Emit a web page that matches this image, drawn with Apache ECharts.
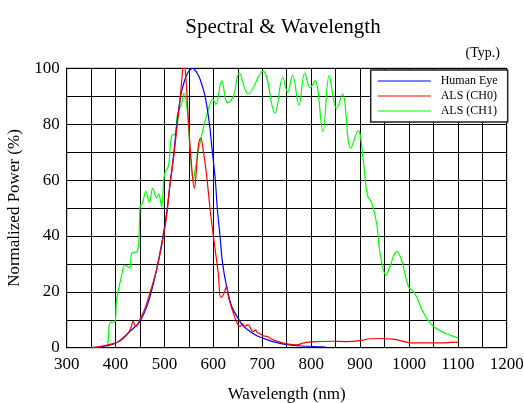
<!DOCTYPE html>
<html>
<head>
<meta charset="utf-8">
<script src="https://cdn.jsdelivr.net/npm/echarts@6/dist/echarts.min.js"></script>
<style>
html,body{margin:0;padding:0;background:#fff;}
#chart{width:524px;height:403px;}
</style>
</head>
<body>
<div id="chart"></div>
<script>
// Human Eye (blue)
var eyeNm  = [350,370,390,402,415,429,440,450,460,470,484,498,505,511,518,525,533,540,548,558,566,573,583,592,598,604,608,613.6,619,627,637,649,660,675,690,709,730,750,780,830];
var eyeVal = [0,0.3,1,1.8,3.5,5.8,7.5,9.5,13,18,28,41,49,58,68,79.5,90,95,98.5,100,98.5,96,90,80,70,60,50,40,30,22,15,11,8,5.8,4.2,2.9,1.8,1.1,0.6,0.2];

// ALS (CH0) (red)
var ch0Nm  = [350,370,390,410,425,432,436,441,446,452,460,470,484,498,505,511,518,525,532,536,538,541,544,548,552,557,561,565,569,574,579,586,593,600,606,610,615,619,623,627,631,636,641,648,654,660,664,669,673,677,682,686,690,695,702,710,720,730,750,770,785,800,845,870,900,920,941,968,990,1009,1050,1100];
var ch0Val = [0,0.5,1.3,2.5,5,7.5,9.4,7.6,8.5,11,14,19.5,28,40,48,58,67,78,89,97,100,100,96,84,73,62,57,63,72,75,71,62,50,40,32,26.7,18,18.5,20,22,18,15,12.4,9,7.6,8.5,7.4,8.2,8,6.5,5.8,6.4,5.5,5,4.3,4,3,2.3,1.4,1,1.7,2.1,2.3,2.2,2.5,3.2,3.3,3.1,2.2,1.7,1.7,2];

// ALS (CH1) (green)
var ch1Nm  = [383,385,388,399,402,412,419,429,433,444,448,450,455,462,469,476,484,488,494,500,508,515,522,526,536,540,546,552,559,563,573,586,599,605,617,629,641,653,671,701,726,742,752,762,775,787,798,808,824,837,852,864,881,896,907,915,924,934,941,953,961,975,985,999,1012,1030,1050,1077,1100];
var ch1Val = [0,3,8.8,9.4,17,25.5,29.6,28.5,33.8,34.4,40,50.5,51.7,56,52,57,53.6,55,50.5,62,65,76,76.4,83,88,91,86,72,60,64,73.6,83,89,87,95.6,87.6,90,98.3,90.8,99,84,96.8,91.4,97.6,86.7,98.3,93,95.6,77.4,97.4,85.5,90.8,71.4,77.7,66.4,54.6,51.7,44.5,33.8,26,29,34.4,31.4,21.9,19.5,12.4,7.6,5,3.5];

// Axis ticks
var xTicks = [300,400,500,600,700,800,900,1000,1100,1200];
var yTicks = [0,20,40,60,80,100];

var seriesNames = ['Human Eye','ALS (CH0)','ALS (CH1)'];
var seriesColors = ['#0000ff','#ff0000','#00ff00'];

function zip(a,b){var r=[];for(var i=0;i<a.length;i++)r.push([a[i],b[i]]);return r;}

var LINE_ICON = 'path://M0,0 M0,5.4 L53,5.4 L53,6.6 L0,6.6 Z M53,12';
var FONT = '"Liberation Serif","Times New Roman",serif';
var chart = echarts.init(document.getElementById('chart'), null, {renderer:'canvas'});
chart.setOption({
  animation:false,
  backgroundColor:'#fff',
  textStyle:{fontFamily:FONT,color:'#000'},
  title:[
    {text:'Spectral & Wavelength',left:278,top:12,textAlign:'center',
     textStyle:{fontFamily:FONT,fontSize:21,fontWeight:'normal',color:'#000'}},
    {text:'(Typ.)',right:19,top:41,
     textStyle:{fontFamily:FONT,fontSize:14,fontWeight:'normal',color:'#000'}}
  ],
  grid:{left:66.7,right:17.3,top:68.3,bottom:55.3,show:true,borderColor:'#000',borderWidth:1,
        backgroundColor:'transparent',containLabel:false,outerBoundsMode:'none'},
  legend:{
    orient:'vertical',left:370.7,top:70,
    padding:[5,10,5,7],itemGap:3,itemWidth:53,itemHeight:12,
    backgroundColor:'#fff',borderColor:'#222',borderWidth:1.5,borderRadius:0,
    textStyle:{fontFamily:FONT,fontSize:12,color:'#000',padding:[0,0,0,5]},
    data:seriesNames.map(function(n,i){return {name:n,icon:LINE_ICON,itemStyle:{color:seriesColors[i]}};})
  },
  xAxis:{
    type:'value',min:300,max:1200,interval:50,
    name:'Wavelength (nm)',nameLocation:'middle',nameGap:38,
    nameTextStyle:{fontFamily:FONT,fontSize:17,color:'#000'},
    axisLine:{show:true,lineStyle:{color:'#000',width:1}},
    axisTick:{show:false},
    axisLabel:{fontFamily:FONT,fontSize:17,color:'#000',margin:8,showMaxLabel:true,showMinLabel:true,
      formatter:function(v){return xTicks.indexOf(v)>=0?String(v):'';}},
    splitLine:{show:true,lineStyle:{color:'#000',width:1}}
  },
  yAxis:{
    type:'value',min:0,max:100,interval:10,
    name:'Normalized Power (%)',nameLocation:'middle',nameGap:38,
    nameTextStyle:{fontFamily:FONT,fontSize:17,color:'#000'},
    axisLine:{show:true,lineStyle:{color:'#000',width:1}},
    axisTick:{show:false},
    axisLabel:{fontFamily:FONT,fontSize:17,color:'#000',margin:7,showMaxLabel:true,showMinLabel:true,
      formatter:function(v){return yTicks.indexOf(v)>=0?String(v):'';}},
    splitLine:{show:true,lineStyle:{color:'#000',width:1}}
  },
  series:[
    {name:seriesNames[0],type:'line',data:zip(eyeNm,eyeVal),symbol:'none',smooth:0.4,
     lineStyle:{color:seriesColors[0],width:1.2},itemStyle:{color:seriesColors[0]},z:3},
    {name:seriesNames[1],type:'line',data:zip(ch0Nm,ch0Val),symbol:'none',smooth:0.4,
     lineStyle:{color:seriesColors[1],width:1.2},itemStyle:{color:seriesColors[1]},z:4},
    {name:seriesNames[2],type:'line',data:zip(ch1Nm,ch1Val),symbol:'none',smooth:0.4,
     lineStyle:{color:seriesColors[2],width:1.2},itemStyle:{color:seriesColors[2]},z:2}
  ]
});
</script>
</body>
</html>
